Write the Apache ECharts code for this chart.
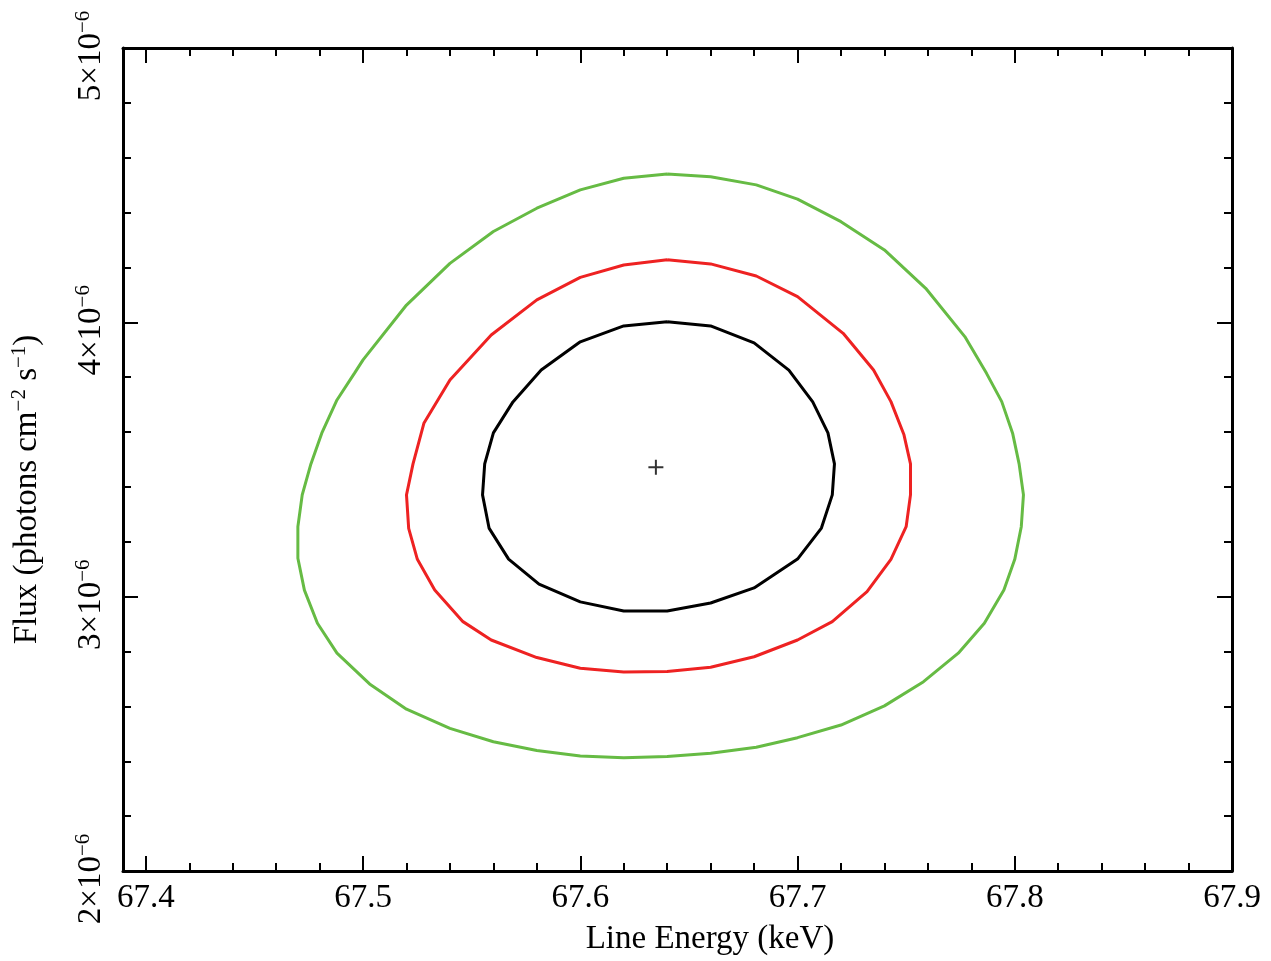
<!DOCTYPE html>
<html>
<head>
<meta charset="utf-8">
<script src="https://cdn.jsdelivr.net/npm/echarts@6/dist/echarts.min.js"></script>
<style>
html, body { margin: 0; padding: 0; background: #fff; }
#chart { width: 1271px; height: 961px; }
</style>
</head>
<body>
<div id="chart"></div>
<script>
// energy in keV, flux in units of 1e-6 photons cm^-2 s^-1
var bestEnergy = [67.6348];
var bestFlux = [3.472];

// inner (black) contour
var blackEnergy = [67.640, 67.660, 67.680, 67.696, 67.707, 67.714, 67.717, 67.716, 67.711, 67.700, 67.680, 67.660, 67.640,
    67.620, 67.600, 67.581, 67.567, 67.558, 67.555, 67.556, 67.560, 67.569, 67.582, 67.600, 67.620, 67.640];
var blackFlux = [4.002, 3.987, 3.925, 3.826, 3.710, 3.597, 3.484, 3.371, 3.250, 3.137, 3.032, 2.977, 2.948,
    2.948, 2.981, 3.046, 3.137, 3.250, 3.371, 3.484, 3.597, 3.710, 3.826, 3.929, 3.987, 4.002];

// middle (red) contour
var redEnergy = [67.640, 67.660, 67.681, 67.700, 67.721, 67.735, 67.743, 67.749, 67.752, 67.752, 67.750, 67.743, 67.732,
    67.716, 67.700, 67.680, 67.660, 67.640, 67.620, 67.600, 67.580, 67.559, 67.546, 67.533, 67.525, 67.521,
    67.520, 67.523, 67.528, 67.540, 67.559, 67.580, 67.600, 67.620, 67.640];
var redFlux = [4.228, 4.213, 4.169, 4.094, 3.960, 3.826, 3.711, 3.590, 3.484, 3.371, 3.255, 3.136, 3.018,
    2.909, 2.842, 2.781, 2.743, 2.727, 2.725, 2.739, 2.778, 2.842, 2.909, 3.024, 3.136, 3.249,
    3.371, 3.484, 3.632, 3.790, 3.954, 4.082, 4.164, 4.209, 4.228];

// outer (green) contour
var greenEnergy = [67.640, 67.660, 67.681, 67.700, 67.720, 67.740, 67.759, 67.777, 67.787, 67.794, 67.799, 67.802, 67.804,
    67.803, 67.800, 67.795, 67.786, 67.774, 67.758, 67.740, 67.720, 67.700, 67.681, 67.660, 67.640, 67.620,
    67.600, 67.580, 67.560, 67.540, 67.520, 67.503, 67.488, 67.479, 67.473, 67.470, 67.470, 67.472, 67.476,
    67.481, 67.488, 67.496, 67.500, 67.520, 67.540, 67.560, 67.580, 67.600, 67.620, 67.640];
var greenFlux = [4.541, 4.531, 4.501, 4.449, 4.367, 4.264, 4.124, 3.948, 3.814, 3.711, 3.596, 3.484, 3.371,
    3.255, 3.136, 3.024, 2.903, 2.794, 2.690, 2.602, 2.532, 2.486, 2.451, 2.429, 2.417, 2.413,
    2.419, 2.439, 2.471, 2.520, 2.590, 2.682, 2.794, 2.903, 3.024, 3.140, 3.255, 3.371, 3.484,
    3.596, 3.717, 3.814, 3.863, 4.063, 4.215, 4.331, 4.416, 4.483, 4.525, 4.541];

// tick labels on the energy axis
var energyTicks = [67.4, 67.5, 67.6, 67.7, 67.8, 67.9];

var xMin = 67.3895, xMax = 67.9;
var yMin = 2, yMax = 5;

var zip = function (xs, ys) {
    var res = [];
    for (var i = 0; i < xs.length; i++) {
        res.push([xs[i], ys[i]]);
    }
    return res;
};

// 4 minor ticks between each pair of major energy ticks
var energyMinor = [];
for (var i = 0; i < energyTicks.length - 1; i++) {
    for (var k = 1; k < 5; k++) {
        energyMinor.push(+(energyTicks[i] + k * 0.02).toFixed(2));
    }
}

var serif = 'Liberation Serif';
var black = '#000';

// major / minor x axes; the left edge is not a round number, so ticks are given explicitly
var majorX = function (pos, labels) {
    return {
        type: 'value', position: pos, min: xMin, max: xMax,
        axisLine: {show: true, onZero: false, lineStyle: {color: black, width: 3}},
        axisTick: {show: true, inside: true, length: 15, customValues: energyTicks, lineStyle: {color: black, width: 2}},
        axisLabel: {
            show: labels, margin: 11, customValues: energyTicks,
            fontFamily: serif, fontSize: 33, color: black,
            formatter: function (v) { return v.toFixed(1); }
        },
        splitLine: {show: false}
    };
};
var minorX = function (pos) {
    return {
        type: 'value', position: pos, min: xMin, max: xMax,
        axisLine: {show: false, onZero: false},
        axisTick: {show: true, inside: true, length: 8, customValues: energyMinor, lineStyle: {color: black, width: 2}},
        axisLabel: {show: false},
        splitLine: {show: false}
    };
};
var yAxisDef = function (pos, labels) {
    return {
        type: 'value', position: pos, min: yMin, max: yMax, interval: 1,
        axisLine: {show: true, onZero: false, lineStyle: {color: black, width: 3}},
        axisTick: {show: true, inside: true, length: 15, lineStyle: {color: black, width: 2}},
        minorTick: {show: true, splitNumber: 5, length: 8, lineStyle: {color: black, width: 2}},
        axisLabel: {
            show: labels, rotate: 90, margin: 14, padding: [0, 16, 0, 0],
            formatter: function (v) { return '{b|' + Math.round(v) + '×10}{s|−6}'; },
            rich: {
                b: {fontFamily: serif, fontSize: 33, lineHeight: 36, color: black},
                s: {fontFamily: serif, fontSize: 21, lineHeight: 22, color: black, verticalAlign: 'top'}
            }
        },
        splitLine: {show: false}
    };
};

var xBottom = majorX('bottom', true);
xBottom.name = 'Line Energy (keV)';
xBottom.nameLocation = 'middle';
xBottom.nameGap = 52;
xBottom.nameTextStyle = {fontFamily: serif, fontSize: 33, color: black, padding: [0, 0, 0, 65]};

var yLeft = yAxisDef('left', true);
yLeft.name = 'Flux (photons cm{s|−2} s{s|−1})';
yLeft.nameLocation = 'middle';
yLeft.nameGap = 78;
yLeft.nameTextStyle = {
    fontFamily: serif, fontSize: 33, lineHeight: 36, color: black, padding: [0, 60, 0, 0],
    rich: {
        s: {fontFamily: serif, fontSize: 21, lineHeight: 22, color: black, verticalAlign: 'top'}
    }
};

var chart = echarts.init(document.getElementById('chart'));

var contour = function (name, xs, ys, color) {
    return {
        name: name,
        type: 'line',
        xAxisIndex: 0,
        yAxisIndex: 0,
        data: zip(xs, ys),
        showSymbol: false,
        smooth: false,
        lineStyle: {color: color, width: 3},
        silent: true
    };
};

var option = {
    backgroundColor: '#fff',
    animation: false,
    grid: {left: 123, right: 39, top: 48, bottom: 90},
    // order matters: ECharts flips a repeated position, so the two minor axes land top & bottom
    xAxis: [xBottom, majorX('top', false), minorX('bottom'), minorX('top')],
    yAxis: [yLeft, yAxisDef('right', false)],
    series: [
        contour('outer', greenEnergy, greenFlux, '#66bb44'),
        contour('middle', redEnergy, redFlux, '#ee2222'),
        contour('inner', blackEnergy, blackFlux, '#000000'),
        {
            name: 'best fit',
            type: 'scatter',
            xAxisIndex: 0,
            yAxisIndex: 0,
            data: zip(bestEnergy, bestFlux),
            symbol: 'path://M7.5,0V15M0,7.5H15',
            symbolSize: 15,
            itemStyle: {color: 'transparent', borderColor: black, borderWidth: 2},
            silent: true
        }
    ]
};
chart.setOption(option);
</script>
</body>
</html>
